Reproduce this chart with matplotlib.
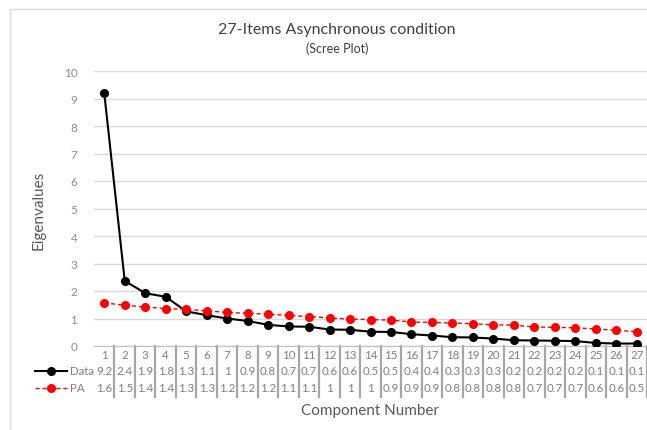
import matplotlib
matplotlib.use("Agg")
import matplotlib.pyplot as plt
from matplotlib.patches import Rectangle
from matplotlib.lines import Line2D

components = list(range(1, 28))
data_vals = [9.20, 2.37, 1.92, 1.79, 1.26, 1.12, 1.00, 0.91, 0.77, 0.71, 0.70, 0.60, 0.59, 0.52,
             0.51, 0.43, 0.38, 0.32, 0.31, 0.27, 0.21, 0.20, 0.19, 0.18, 0.11, 0.09, 0.09]
pa_vals = [1.57, 1.48, 1.42, 1.36, 1.33, 1.28, 1.22, 1.19, 1.16, 1.11, 1.07, 1.02, 0.98, 0.96,
           0.94, 0.87, 0.86, 0.83, 0.81, 0.77, 0.76, 0.69, 0.68, 0.66, 0.62, 0.57, 0.52]
y_ticks = list(range(0, 11))

def fmt(v):
    return "{:g}".format(round(v, 1))

plt.rcParams['font.family'] = ['Lato', 'DejaVu Sans']
W, H = 647, 431
fig = plt.figure(figsize=(W / 100, H / 100), dpi=100)
fig.patch.set_facecolor('white')

# border
fig.add_artist(Rectangle((9.5 / W, -0.01), (W + 10) / W, (H - 9.5) / H + 0.01, transform=fig.transFigure,
                         fill=False, edgecolor='#d9d9d9', linewidth=1.0))

left, right, top, bottom = 94, 647, 72, 347
ax = fig.add_axes([left / W, (H - bottom) / H, (right - left) / W, (bottom - top) / H])
ax.set_xlim(0.5, 27.5)
ax.set_ylim(0, 10)
ax.set_yticks(y_ticks)
ax.set_yticklabels([str(t) for t in y_ticks], color='#8c8c8c', fontsize=8.5)
ax.tick_params(axis='y', length=0, pad=12)
ax.set_xticks([])
for s in ['top', 'right', 'left']:
    ax.spines[s].set_visible(False)
ax.spines['bottom'].set_color('#bfbfbf')
ax.grid(axis='y', color='#d9d9d9', linewidth=1.0)
ax.set_axisbelow(True)

ax.plot(components, data_vals, color='black', linewidth=1.5, marker='o', markersize=5.5, zorder=3)
ax.plot(components, pa_vals, color='#ff0000', linewidth=1.0, linestyle=(0, (3, 2)), marker='o',
        markersize=5.5, zorder=3)

# data table below axis
trans = ax.get_xaxis_transform()
def yfrac(py):
    return (bottom - py) / (bottom - top)

row_num, row_data, row_pa = 355.7, 372.0, 389.0
tcol = '#7f7f7f'
for i, c in enumerate(components):
    ax.text(c, yfrac(row_num), str(c), transform=trans, ha='center', va='center', fontsize=8.3, color=tcol, clip_on=False)
    ax.text(c, yfrac(row_data), fmt(data_vals[i]), transform=trans, ha='center', va='center', fontsize=8.3, color=tcol, clip_on=False)
    ax.text(c, yfrac(row_pa), fmt(pa_vals[i]), transform=trans, ha='center', va='center', fontsize=8.3, color=tcol, clip_on=False)
for k in range(1, 28):
    ax.add_line(Line2D([k + 0.5, k + 0.5], [yfrac(bottom), yfrac(398)], transform=trans,
                       color='#a6a6a6', linewidth=1.6, clip_on=False))

# legend keys
fig.add_artist(Line2D([35 / W, 67 / W], [(H - row_data) / H] * 2, color='black', linewidth=1.5))
fig.add_artist(Line2D([51 / W], [(H - row_data) / H], color='black', marker='o', markersize=5.5))
fig.add_artist(Line2D([35 / W, 67 / W], [(H - row_pa) / H] * 2, color='#ff0000', linewidth=1.0, linestyle=(0, (3, 2))))
fig.add_artist(Line2D([51 / W], [(H - row_pa) / H], color='#ff0000', marker='o', markersize=5.5))
fig.text(70 / W, (H - row_data) / H, 'Data', ha='left', va='center', fontsize=8.3, color=tcol)
fig.text(70 / W, (H - row_pa) / H, 'PA', ha='left', va='center', fontsize=8.3, color=tcol)

fig.text(337 / W, (H - 30) / H, '27-Items Asynchronous condition', ha='center', va='center', fontsize=11.5, color='#404040')
fig.text(337 / W, (H - 49) / H, '(Scree Plot)', ha='center', va='center', fontsize=9, color='#404040')
fig.text(370 / W, (H - 411) / H, 'Component Number', ha='center', va='center', fontsize=11, color='#595959')
fig.text(39 / W, (H - 210) / H, 'Eigenvalues', ha='center', va='center', rotation=90, fontsize=11, color='#595959')

fig.savefig('out.png', dpi=100, facecolor='white')
